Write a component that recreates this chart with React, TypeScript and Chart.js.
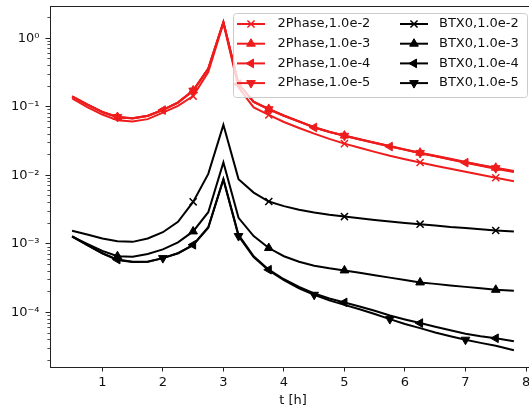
import React, { useEffect, useRef } from 'react';
import { Chart, registerables } from 'chart.js';

Chart.register(...registerables);

// ---------------- data ----------------
const times = [0.5, 0.75, 1, 1.25, 1.5, 1.75, 2, 2.25, 2.5, 2.75, 3, 3.25, 3.5, 3.75, 4, 4.25, 4.5, 4.75, 5, 5.25, 5.5, 5.75, 6, 6.25, 6.5, 6.75, 7, 7.25, 7.5, 7.8];

const twoPhase_1e2 = [0.132, 0.099, 0.077, 0.0635, 0.061, 0.066, 0.082, 0.103, 0.143, 0.32, 1.65, 0.19, 0.098, 0.076, 0.060, 0.049, 0.0405, 0.034, 0.029, 0.0252, 0.022, 0.0193, 0.0172, 0.0154, 0.0138, 0.0125, 0.0113, 0.0102, 0.0092, 0.0082];
const twoPhase_1e3 = [0.142, 0.108, 0.084, 0.071, 0.068, 0.074, 0.090, 0.116, 0.173, 0.36, 1.72, 0.216, 0.119, 0.093, 0.0745, 0.0612, 0.0503, 0.0432, 0.038, 0.0337, 0.030, 0.0267, 0.0239, 0.0214, 0.0193, 0.0174, 0.0157, 0.0142, 0.0129, 0.0116];
const twoPhase_1e4 = [0.141, 0.107, 0.0835, 0.0705, 0.0675, 0.0735, 0.0895, 0.115, 0.171, 0.358, 1.71, 0.214, 0.118, 0.0915, 0.0738, 0.0607, 0.0499, 0.0428, 0.0376, 0.0333, 0.0296, 0.0263, 0.0235, 0.021, 0.0189, 0.017, 0.0153, 0.0138, 0.0125, 0.0112];
const twoPhase_1e5 = [0.142, 0.108, 0.084, 0.071, 0.068, 0.074, 0.090, 0.115, 0.172, 0.36, 1.72, 0.215, 0.118, 0.092, 0.074, 0.061, 0.050, 0.043, 0.0378, 0.0335, 0.0298, 0.0265, 0.0237, 0.0212, 0.0191, 0.0172, 0.0155, 0.014, 0.0127, 0.0114];

const btx0_1e2 = [1.55e-3, 1.37e-3, 1.2e-3, 1.09e-3, 1.07e-3, 1.2e-3, 1.48e-3, 2.1e-3, 4.1e-3, 1.05e-2, 5.45e-2, 8.8e-3, 5.6e-3, 4.15e-3, 3.55e-3, 3.15e-3, 2.87e-3, 2.66e-3, 2.5e-3, 2.36e-3, 2.23e-3, 2.12e-3, 2.02e-3, 1.94e-3, 1.85e-3, 1.76e-3, 1.7e-3, 1.63e-3, 1.57e-3, 1.52e-3];
const btx0_1e3 = [1.28e-3, 1.0e-3, 7.9e-4, 6.6e-4, 6.5e-4, 7.1e-4, 8.3e-4, 1.05e-3, 1.52e-3, 2.9e-3, 1.54e-2, 2.4e-3, 1.3e-3, 8.7e-4, 6.6e-4, 5.5e-4, 4.8e-4, 4.4e-4, 4.1e-4, 3.78e-4, 3.49e-4, 3.22e-4, 2.97e-4, 2.74e-4, 2.61e-4, 2.48e-4, 2.36e-4, 2.25e-4, 2.14e-4, 2.07e-4];
const btx0_1e4 = [1.28e-3, 9.6e-4, 7.3e-4, 5.9e-4, 5.5e-4, 5.5e-4, 6.2e-4, 7.3e-4, 9.7e-4, 1.75e-3, 8.8e-3, 1.35e-3, 6.6e-4, 4.2e-4, 3.05e-4, 2.35e-4, 1.9e-4, 1.6e-4, 1.4e-4, 1.22e-4, 1.06e-4, 9.0e-5, 7.9e-5, 7.0e-5, 6.2e-5, 5.5e-5, 4.9e-5, 4.5e-5, 4.2e-5, 3.8e-5];
const btx0_1e5 = [1.3e-3, 9.7e-4, 7.3e-4, 5.8e-4, 5.45e-4, 5.5e-4, 6.2e-4, 7.3e-4, 9.6e-4, 1.72e-3, 8.7e-3, 1.3e-3, 6.4e-4, 4.1e-4, 2.95e-4, 2.25e-4, 1.81e-4, 1.5e-4, 1.29e-4, 1.11e-4, 9.5e-5, 8.0e-5, 6.8e-5, 5.9e-5, 5.1e-5, 4.5e-5, 4.0e-5, 3.6e-5, 3.27e-5, 2.8e-5];

// times where a marker is drawn
const markTimesX = [2.5, 3.75, 5, 6.25, 7.5];
const markTimesMain = [1.25, 2.5, 3.75, 5, 6.25, 7.5];
const markTimesShift = [2, 3.25, 4.5, 5.75, 7];

const seriesLabels = ['2Phase,1.0e-2', '2Phase,1.0e-3', '2Phase,1.0e-4', '2Phase,1.0e-5', 'BTX0,1.0e-2', 'BTX0,1.0e-3', 'BTX0,1.0e-4', 'BTX0,1.0e-5'];

const xTickValues = [1, 2, 3, 4, 5, 6, 7, 8];
const yMajorTicks = [1e-4, 1e-3, 1e-2, 1e-1, 1];
const yTickLabels = ['10⁻⁴', '10⁻³', '10⁻²', '10⁻¹', '10⁰'];
const xMin = 0.135;
const xMax = 8.165;
const yMin = 1.6e-5;
const yMax = 2.95;

// ---------------- styles ----------------
const RED = '#ee1c1c';
const BLACK = '#000000';
const FONT = 'DejaVu Sans';
const AXIS = '#222222';

type Marker = { style: string; rot: number };
const MX: Marker = { style: 'crossRot', rot: 0 };
const MUP: Marker = { style: 'triangle', rot: 0 };
const MLEFT: Marker = { style: 'triangle', rot: 270 };
const MDOWN: Marker = { style: 'triangle', rot: 180 };

const seriesData = [twoPhase_1e2, twoPhase_1e3, twoPhase_1e4, twoPhase_1e5, btx0_1e2, btx0_1e3, btx0_1e4, btx0_1e5];
const seriesColors = [RED, RED, RED, RED, BLACK, BLACK, BLACK, BLACK];
const seriesMarkers = [MX, MUP, MLEFT, MDOWN, MX, MUP, MLEFT, MDOWN];
const seriesMarkTimes = [markTimesX, markTimesMain, markTimesShift, markTimesMain, markTimesX, markTimesMain, markTimesMain, markTimesShift];

const MARKER_R = 5;

function drawMarker(ctx: CanvasRenderingContext2D, m: Marker, x: number, y: number, r: number, color: string) {
  ctx.save();
  ctx.strokeStyle = color;
  ctx.fillStyle = color;
  ctx.beginPath();
  if (m.style === 'crossRot') {
    const o = r * Math.SQRT1_2;
    ctx.lineWidth = 1.5;
    ctx.moveTo(x - o, y - o);
    ctx.lineTo(x + o, y + o);
    ctx.moveTo(x + o, y - o);
    ctx.lineTo(x - o, y + o);
    ctx.stroke();
  } else {
    let rad = (m.rot * Math.PI) / 180;
    ctx.lineWidth = 1;
    ctx.moveTo(x + Math.sin(rad) * r, y - Math.cos(rad) * r);
    rad += (2 * Math.PI) / 3;
    ctx.lineTo(x + Math.sin(rad) * r, y - Math.cos(rad) * r);
    rad += (2 * Math.PI) / 3;
    ctx.lineTo(x + Math.sin(rad) * r, y - Math.cos(rad) * r);
    ctx.closePath();
    ctx.fill();
    ctx.stroke();
  }
  ctx.restore();
}

const framePlugin = {
  id: 'topFrame',
  afterDatasetsDraw(chart: any) {
    const { ctx, chartArea } = chart;
    ctx.save();
    ctx.strokeStyle = AXIS;
    ctx.lineWidth = 1;
    ctx.beginPath();
    const y = Math.round(chartArea.top) + 0.5;
    ctx.moveTo(chartArea.left, y);
    ctx.lineTo(chartArea.right, y);
    ctx.stroke();
    ctx.restore();
  },
};

const legendPlugin = {
  id: 'mplLegend',
  afterDraw(chart: any) {
    const { ctx, chartArea } = chart;
    const right = chartArea.right - 9;
    const top = chartArea.top + 7;
    const w = 294;
    const h = 84;
    const left = right - w;
    ctx.save();
    // box
    const r = 3;
    ctx.beginPath();
    ctx.moveTo(left + r + 0.5, top + 0.5);
    ctx.lineTo(left + w - r + 0.5, top + 0.5);
    ctx.arcTo(left + w + 0.5, top + 0.5, left + w + 0.5, top + r + 0.5, r);
    ctx.lineTo(left + w + 0.5, top + h - r + 0.5);
    ctx.arcTo(left + w + 0.5, top + h + 0.5, left + w - r + 0.5, top + h + 0.5, r);
    ctx.lineTo(left + r + 0.5, top + h + 0.5);
    ctx.arcTo(left + 0.5, top + h + 0.5, left + 0.5, top + h - r + 0.5, r);
    ctx.lineTo(left + 0.5, top + r + 0.5);
    ctx.arcTo(left + 0.5, top + 0.5, left + r + 0.5, top + 0.5, r);
    ctx.closePath();
    ctx.fillStyle = 'rgba(255,255,255,0.8)';
    ctx.fill();
    ctx.strokeStyle = '#cccccc';
    ctx.lineWidth = 1;
    ctx.stroke();

    const datasets = chart.data.datasets;
    ctx.font = `13px "${FONT}"`;
    ctx.textBaseline = 'middle';
    ctx.textAlign = 'left';
    datasets.forEach((ds: any, i: number) => {
      const col = Math.floor(i / 4);
      const row = i % 4;
      const cy = top + 11 + row * 19.7;
      const lx0 = col === 0 ? left + 4 : left + 167;
      const lx1 = lx0 + 28;
      const tx = col === 0 ? left + 44.5 : left + 206;
      ctx.strokeStyle = ds.borderColor;
      ctx.lineWidth = 2;
      ctx.beginPath();
      ctx.moveTo(lx0, cy);
      ctx.lineTo(lx1, cy);
      ctx.stroke();
      drawMarker(ctx, seriesMarkers[i], (lx0 + lx1) / 2, cy, MARKER_R, ds.borderColor);
      ctx.fillStyle = '#111111';
      ctx.fillText(ds.label, tx, cy);
    });
    ctx.restore();
  },
};

export default function App() {
  const canvasRef = useRef<HTMLCanvasElement | null>(null);

  useEffect(() => {
    const canvas = canvasRef.current;
    if (!canvas) return;

    const datasets = seriesLabels.map((label, i) => ({
      label,
      data: times.map((t, k) => ({ x: t, y: seriesData[i][k] })),
      borderColor: seriesColors[i],
      backgroundColor: seriesColors[i],
      borderWidth: 2,
      tension: 0,
      fill: false,
      pointStyle: seriesMarkers[i].style,
      pointRotation: seriesMarkers[i].rot,
      pointRadius: times.map((t) => (seriesMarkTimes[i].includes(t) ? MARKER_R : 0)),
      pointHoverRadius: 0,
      pointBackgroundColor: seriesColors[i],
      pointBorderColor: seriesColors[i],
      pointBorderWidth: seriesMarkers[i].style === 'crossRot' ? 1.5 : 1,
    }));

    const yMinorTicks: number[] = [];
    yMajorTicks.concat([1e-5]).forEach((d) => {
      for (let m = 2; m <= 9; m++) {
        const v = d * m;
        if (v > yMin && v < yMax) yMinorTicks.push(v);
      }
    });
    const yAllTicks = yMajorTicks.concat(yMinorTicks).sort((a, b) => a - b);

    const tickFont = { family: FONT, size: 13 };

    const chart = new Chart(canvas, {
      type: 'line',
      data: { datasets },
      options: {
        animation: false,
        responsive: false,
        maintainAspectRatio: false,
        events: [],
        layout: { padding: { left: 0, top: 6, right: 9, bottom: 0 } },
        plugins: {
          legend: { display: false },
          tooltip: { enabled: false },
        },
        scales: {
          x: {
            type: 'linear',
            min: xMin,
            max: xMax,
            afterBuildTicks: (scale: any) => {
              scale.ticks = xTickValues.map((v) => ({ value: v }));
            },
            ticks: {
              autoSkip: false,
              maxRotation: 0,
              font: tickFont,
              color: '#111111',
              padding: 3,
              callback: (v: any) => String(v),
            },
            grid: {
              drawOnChartArea: false,
              drawTicks: true,
              tickLength: 4.5,
              tickColor: AXIS,
              tickWidth: 1,
            },
            border: { display: true, color: AXIS, width: 1 },
            title: {
              display: true,
              text: 't [h]',
              font: tickFont,
              color: '#111111',
              padding: { top: 0, bottom: 1 },
            },
            afterFit: (scale: any) => {
              scale.height = 42;
              scale.paddingLeft = 0;
              scale.paddingRight = 0;
            },
          },
          y: {
            type: 'logarithmic',
            min: yMin,
            max: yMax,
            afterBuildTicks: (scale: any) => {
              scale.ticks = yAllTicks.map((v) => ({ value: v }));
            },
            ticks: {
              autoSkip: false,
              font: tickFont,
              color: '#111111',
              padding: 6,
              callback: (v: any) => {
                const i = yMajorTicks.indexOf(v);
                return i >= 0 ? yTickLabels[i] : '';
              },
            },
            grid: {
              drawOnChartArea: false,
              drawTicks: true,
              tickLength: 4.5,
              tickColor: AXIS,
              tickWidth: (c: any) => (c.tick && yMajorTicks.indexOf(c.tick.value) >= 0 ? 1 : 0.8),
              tickBorderDash: (c: any) => (c.tick && yMajorTicks.indexOf(c.tick.value) >= 0 ? [] : [0, 1.9, 2.6, 20]),
            },
            border: { display: true, color: AXIS, width: 1 },
            afterFit: (scale: any) => {
              scale.width = 50;
              scale.paddingTop = 0;
              scale.paddingBottom = 0;
            },
          },
        },
      } as any,
      plugins: [framePlugin, legendPlugin],
    });

    return () => {
      chart.destroy();
    };
  }, []);

  return (
    <div
      style={{
        position: 'fixed',
        left: 0,
        top: 0,
        width: 529,
        height: 409,
        overflow: 'hidden',
        background: '#ffffff',
      }}
    >
      <canvas ref={canvasRef} width={545} height={409} style={{ display: 'block', width: 545, height: 409 }} />
    </div>
  );
}
